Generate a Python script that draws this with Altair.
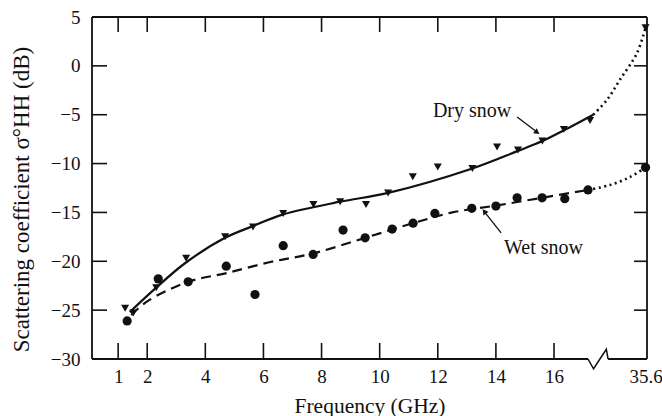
import altair as alt
import pandas as pd

# ---------------- data ----------------
dry_freq = [1.24, 1.52, 2.31, 3.34, 4.68, 5.64, 6.68, 7.72, 8.64, 9.53, 10.29,
            11.14, 12.0, 13.19, 14.04, 14.76, 15.6, 16.34, 17.24, 35.6]
dry_db = [-24.8, -25.3, -22.7, -19.7, -17.5, -16.5, -15.1, -14.2, -13.9, -14.2, -13.0,
          -11.35, -10.35, -10.5, -8.3, -8.6, -7.7, -6.5, -5.6, 3.9]

wet_freq = [1.31, 2.38, 3.41, 4.72, 5.71, 6.68, 7.71, 8.74, 9.5, 10.43, 11.15,
            11.9, 13.17, 14.0, 14.73, 15.59, 16.37, 17.17, 35.6]
wet_db = [-26.1, -21.8, -22.1, -20.5, -23.4, -18.4, -19.3, -16.8, -17.6, -16.7, -16.1,
          -15.1, -14.58, -14.35, -13.5, -13.5, -13.6, -12.7, -10.4]

# fitted curves (solid / dashed part, measured frequencies)
dry_fit_freq = [1.4, 2.31, 3.3, 4.68, 5.64, 6.68, 8.64, 10.29, 13.19,
                14.76, 15.6, 16.34, 17.35]
dry_fit_db = [-25.2, -22.7, -20.2, -17.6, -16.4, -15.2, -13.9, -13.0, -10.5,
              -8.7, -7.7, -6.6, -5.0]
# dotted extension towards 35.6 GHz
dry_ext_freq = [17.35, 22.1, 26.7, 32.6, 35.6]
dry_ext_db = [-5.0, -3.5, -1.4, 1.3, 3.9]

wet_fit_freq = [1.45, 2.0, 3.41, 4.74, 6.2, 7.71, 9.5, 11.15, 12.5,
                14.0, 15.59, 17.17]
wet_fit_db = [-25.5, -24.1, -22.1, -21.2, -20.1, -19.2, -17.6, -16.1, -15.0,
              -14.3, -13.5, -12.7]
wet_ext_freq = [17.17, 23.2, 30.0, 35.6]
wet_ext_db = [-12.7, -12.2, -11.4, -10.4]

x_tick_freqs = [1, 2, 4, 6, 8, 10, 12, 14, 16, 35.6]
x_tick_labels = ["1", "2", "4", "6", "8", "10", "12", "14", "16", "35.6"]
y_ticks = [-30, -25, -20, -15, -10, -5, 0, 5]
y_inner_ticks = [-25, -20, -15, -10, -5, 0]

# ---------------- broken axis mapping ----------------
BREAK_F = 17.35
END_F = 35.6
END_POS = 19.15
X_MIN, X_MAX = 0.1, 19.2
Y_MIN, Y_MAX = -30, 5


def pos(f):
    if f <= BREAK_F:
        return f
    return BREAK_F + (f - BREAK_F) * (END_POS - BREAK_F) / (END_F - BREAK_F)


def frame(freqs, vals):
    return pd.DataFrame({"x": [pos(f) for f in freqs], "y": vals})


W, H = 555, 342
INK = "#111111"
FONT = "Liberation Serif"

xs = alt.Scale(domain=[X_MIN, X_MAX], nice=False, zero=False)
ys = alt.Scale(domain=[Y_MIN, Y_MAX], nice=False, zero=False)

tick_pos = [pos(f) for f in x_tick_freqs]
label_expr = " : ".join(
    [f"abs(datum.value - {p}) < 0.01 ? '{l}'" for p, l in zip(tick_pos, x_tick_labels)]
) + " : ''"

x_axis = alt.Axis(values=tick_pos, labelExpr=label_expr, title="Frequency (GHz)",
                  ticks=False, tickSize=0, domain=False, grid=False,
                  labelFont=FONT, labelFontSize=19, labelColor=INK, labelPadding=8,
                  titleFont=FONT, titleFontSize=21.5, titleFontWeight="normal", titleColor=INK,
                  titleBaseline="alphabetic", titleY=53)
y_axis = alt.Axis(values=y_ticks, title="Scattering coefficient σ°HH (dB)",
                  ticks=False, tickSize=0, domain=False, grid=False,
                  labelFont=FONT, labelFontSize=19, labelColor=INK, labelPadding=12,
                  titleFont=FONT, titleFontSize=23, titleFontWeight="normal", titleColor=INK,
                  titleAngle=270, titleAlign="center", titleBaseline="middle",
                  titleX=-71, titleY=182)


def X():
    return alt.X("x:Q", scale=xs, axis=x_axis)


def Y():
    return alt.Y("y:Q", scale=ys, axis=y_axis)


# points
dry_pts = alt.Chart(frame(dry_freq, dry_db)).mark_point(
    shape="triangle-down", filled=True, size=65, color=INK, opacity=1
).encode(x=X(), y=Y())

wet_pts = alt.Chart(frame(wet_freq, wet_db)).mark_circle(
    size=85, color=INK, opacity=1
).encode(x=X(), y=Y())

# curves
dry_line = alt.Chart(frame(dry_fit_freq, dry_fit_db)).mark_line(
    color=INK, strokeWidth=2.2, interpolate="catmull-rom"
).encode(x=X(), y=Y())
dry_ext = alt.Chart(frame(dry_ext_freq, dry_ext_db)).mark_line(
    color=INK, strokeWidth=2.6, strokeDash=[2, 3.5], interpolate="catmull-rom"
).encode(x=X(), y=Y())
wet_line = alt.Chart(frame(wet_fit_freq, wet_fit_db)).mark_line(
    color=INK, strokeWidth=2.2, strokeDash=[10, 6], interpolate="catmull-rom"
).encode(x=X(), y=Y())
wet_ext = alt.Chart(frame(wet_ext_freq, wet_ext_db)).mark_line(
    color=INK, strokeWidth=2.6, strokeDash=[2, 3.5], interpolate="catmull-rom"
).encode(x=X(), y=Y())

# frame lines
base_rule = alt.Chart(pd.DataFrame({"k": [0]}))
top_border = base_rule.mark_rule(color=INK, strokeWidth=1.8).encode(
    x=alt.value(0), x2=alt.value(W), y=alt.value(0))
left_border = base_rule.mark_rule(color=INK, strokeWidth=1.8).encode(
    x=alt.value(0), y=alt.value(0), y2=alt.value(H))
right_border = base_rule.mark_rule(color=INK, strokeWidth=1.8).encode(
    x=alt.value(W), y=alt.value(0), y2=alt.value(H))

ZZ_A, ZZ_B = 17.17, 17.86
bottom_df = pd.DataFrame({"x": [X_MIN, ZZ_B], "x2": [ZZ_A, X_MAX], "y": [Y_MIN, Y_MIN]})
bottom_border = alt.Chart(bottom_df).mark_rule(color=INK, strokeWidth=1.8).encode(
    x=X(), x2="x2:Q", y=Y())

zz_df = pd.DataFrame({"x": [ZZ_A, 17.36, 17.8, ZZ_B], "y": [-30, -31.0, -29.0, -30],
                      "o": [0, 1, 2, 3]})
zigzag = alt.Chart(zz_df).mark_line(color=INK, strokeWidth=1.5).encode(
    x=X(), y=Y(), order="o:Q")

# inward ticks
xt_df = pd.DataFrame({"x": tick_pos[:-1]})
yt_df = pd.DataFrame({"y": y_inner_ticks})
bottom_ticks = alt.Chart(xt_df).mark_rule(color=INK, strokeWidth=1.6).encode(
    x=X(), y=alt.value(H), y2=alt.value(H - 16))
top_ticks = alt.Chart(xt_df).mark_rule(color=INK, strokeWidth=1.6).encode(
    x=X(), y=alt.value(0), y2=alt.value(15))
left_ticks = alt.Chart(yt_df).mark_rule(color=INK, strokeWidth=1.6).encode(
    y=Y(), x=alt.value(0), x2=alt.value(15))
right_ticks = alt.Chart(yt_df).mark_rule(color=INK, strokeWidth=1.6).encode(
    y=Y(), x=alt.value(W - 13), x2=alt.value(W))

# annotations
labels_df = pd.DataFrame({"x": [13.18, 15.64], "y": [-4.62, -18.64],
                          "t": ["Dry snow", "Wet snow"]})
labels = alt.Chart(labels_df).mark_text(
    font=FONT, fontSize=20, color=INK, align="center", baseline="middle"
).encode(x=X(), y=Y(), text="t:N")

arrow_df = pd.DataFrame({"x": [14.73, 15.40, 14.18, 13.62],
                         "y": [-5.24, -6.75, -17.1, -15.0],
                         "g": ["d", "d", "w", "w"], "o": [0, 1, 0, 1]})
arrows = alt.Chart(arrow_df).mark_line(color=INK, strokeWidth=1.3).encode(
    x=X(), y=Y(), detail="g:N", order="o:Q")

head_dry = alt.Chart(pd.DataFrame({"x": [15.42], "y": [-6.8]})).mark_point(
    shape="triangle-right", angle=36, filled=True, size=40, color=INK, opacity=1
).encode(x=X(), y=Y())
head_wet = alt.Chart(pd.DataFrame({"x": [13.6], "y": [-14.9]})).mark_point(
    shape="triangle-right", angle=232, filled=True, size=40, color=INK, opacity=1
).encode(x=X(), y=Y())

chart = alt.layer(
    dry_pts, wet_pts, dry_line, dry_ext, wet_line, wet_ext,
    top_border, left_border, right_border, bottom_border, zigzag,
    bottom_ticks, top_ticks, left_ticks, right_ticks,
    labels, arrows, head_dry, head_wet,
).properties(
    width=W, height=H,
    autosize=alt.AutoSizeParams(type="none"),
    padding={"left": 92, "top": 17, "right": 662 - 92 - W, "bottom": 416 - 17 - H},
    background="white",
).configure_view(stroke=None)

chart.save("out.html", embed_options={"renderer": "svg", "actions": False})
